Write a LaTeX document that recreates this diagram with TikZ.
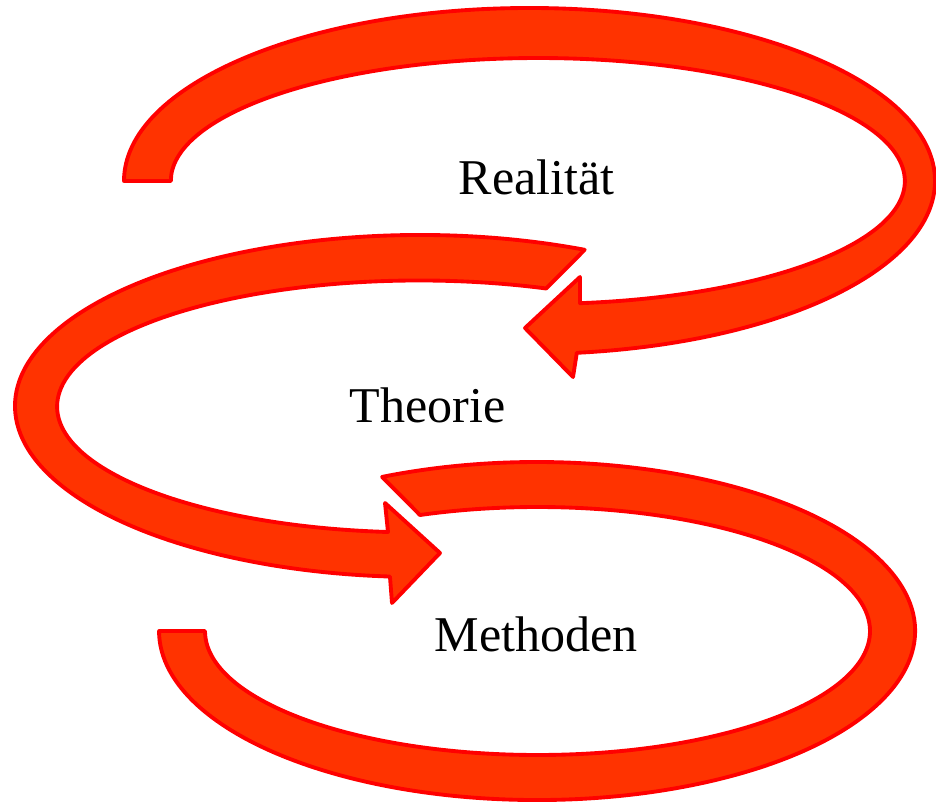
\documentclass[tikz,border=0pt]{standalone}
\usepackage{fontspec}
\setmainfont{Liberation Serif}
\definecolor{bandfill}{HTML}{FF3300}
\definecolor{bandline}{HTML}{FF0000}
\begin{document}
\begin{tikzpicture}[x=0.02cm,y=0.02cm,
  band/.style={fill=bandfill,draw=bandline,line width=2.2pt,line join=round},
  lbl/.style={font=\fontsize{28.5}{34}\selectfont,anchor=base,inner sep=0pt}]
\useasboundingbox (0,0) rectangle (936,-803);
% top band: Realitaet -> Theorie
\draw[band] (124,-181) arc[start angle=180,end angle=-83.3,x radius=405.5*0.02cm,y radius=173*0.02cm]
  -- (573,-377) -- (525,-328) -- (580,-277) -- (580,-303.2)
  arc[start angle=-83.4,end angle=180,x radius=367*0.02cm,y radius=123*0.02cm] -- cycle;
% middle band: Theorie -> Methoden
\draw[band] (584.7,-249.8) arc[start angle=66,end angle=265.75,x radius=405*0.02cm,y radius=171*0.02cm]
  -- (392,-603) -- (440,-553) -- (385,-503) -- (388,-532)
  arc[start angle=265.07,end angle=69.46,x radius=362*0.02cm,y radius=126*0.02cm] -- cycle;
% bottom band
\draw[band] (382.1,-476.9) arc[start angle=114.2,end angle=-180,x radius=378*0.02cm,y radius=169*0.02cm]
  -- (205,-631)
  arc[start angle=-180,end angle=110.7,x radius=332.5*0.02cm,y radius=124*0.02cm] -- cycle;
\node[lbl] (realitaet) at (536.5,-195) {Realität};
\node[lbl] (theorie) at (427.5,-423) {Theorie};
\node[lbl] (methoden) at (536,-651.5) {Methoden};
\end{tikzpicture}
\end{document}
